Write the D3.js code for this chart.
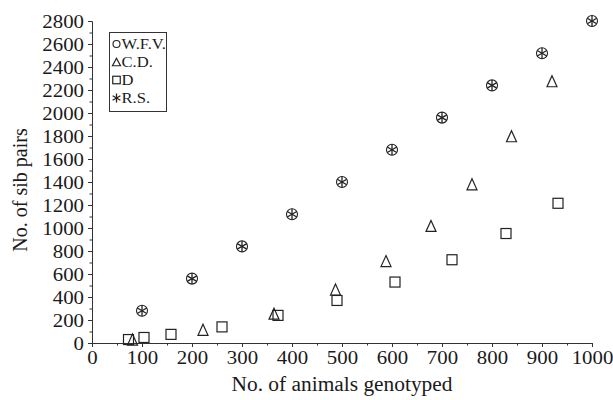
<!DOCTYPE html>
<html><head><meta charset="utf-8">
<script src="https://cdn.jsdelivr.net/npm/d3@7"></script>
<style>body{margin:0;background:#fff}svg{display:block}</style>
</head><body>
<svg id="c" width="613" height="400"></svg>
<script>
const seriesNames = ["W.F.V.", "C.D.", "D", "R.S."];
const wfvX = [100,200,300,400,500,600,700,800,900,1000];
const wfvY = [280,560,840,1120,1400,1680,1960,2240,2520,2800];
const rsX = [100,200,300,400,500,600,700,800,900,1000];
const rsY = [280,560,840,1120,1400,1680,1960,2240,2520,2800];
const cdX = [81,222,364,487,588,678,760,839,920];
const cdY = [30,115,255,465,712,1018,1380,1798,2276];
const dX = [73,104,158,260,372,490,606,720,828,932];
const dY = [30,48,75,140,240,370,530,724,952,1215];
const xTicks = [0,100,200,300,400,500,600,700,800,900,1000];
const yTicks = [0,200,400,600,800,1000,1200,1400,1600,1800,2000,2200,2400,2600,2800];

const FONT = "'Liberation Serif', Tinos, 'Times New Roman', Times, serif";
const SX = 1.07;
const svg = d3.select("#c");
const x = d3.scaleLinear().domain([0,1000]).range([92,592]);
const y = d3.scaleLinear().domain([0,2800]).range([343,21]);

const xAxis = svg.append("g").attr("transform","translate(0,343)");
xAxis.call(d3.axisBottom(x).tickValues(d3.range(0,1001,50)).tickSize(4).tickFormat(d=> xTicks.includes(d)?d:""));
const yAxis = svg.append("g").attr("transform","translate(92,0)");
yAxis.call(d3.axisLeft(y).tickValues(d3.range(0,2801,100)).tickSize(4).tickFormat(d=> yTicks.includes(d)?d:""));
[xAxis,yAxis].forEach(g=>{
  g.attr("font-family",null).attr("font-size",null);
  g.select(".domain").attr("stroke","#333").attr("stroke-width",1);
  g.selectAll(".tick line").attr("stroke","#333").attr("stroke-width",1);
  g.selectAll(".tick text").style("font-family",FONT).style("font-size","19.5px").attr("fill","#1a1a1a").attr("transform",`scale(${SX},1)`);
});
xAxis.selectAll(".tick text").attr("dy","0.9em").attr("y",3);
yAxis.selectAll(".tick text").attr("x",-8/SX).attr("dy","0.34em");
yAxis.selectAll(".tick").filter(d=>!yTicks.includes(d)).select("line").attr("x2",-2.5);
xAxis.selectAll(".tick").filter(d=>!xTicks.includes(d)).select("line").attr("y2",2.5);

svg.append("text").attr("transform",`translate(342,391) scale(${SX},1)`).attr("text-anchor","middle").style("font-family",FONT).style("font-size","20px").attr("fill","#1a1a1a").text("No. of animals genotyped");
svg.append("text").attr("transform","translate(27,190) rotate(-90)").attr("text-anchor","middle").style("font-family",FONT).style("font-size","20px").attr("fill","#1a1a1a").text("No. of sib pairs");

const stroke = "#222";
function circle(g,cx,cy,r){g.append("circle").attr("cx",cx).attr("cy",cy).attr("r",r).attr("fill","none").attr("stroke",stroke).attr("stroke-width",1.1);}
function star(g,cx,cy,r){
  [90,30,150].forEach(a=>{const t=a*Math.PI/180;g.append("line").attr("x1",cx-r*Math.cos(t)).attr("y1",cy-r*Math.sin(t)).attr("x2",cx+r*Math.cos(t)).attr("y2",cy+r*Math.sin(t)).attr("stroke",stroke).attr("stroke-width",1.3);});
}
function square(g,cx,cy,s){g.append("rect").attr("x",cx-s/2).attr("y",cy-s/2).attr("width",s).attr("height",s).attr("fill","none").attr("stroke",stroke).attr("stroke-width",1.2);}
function tri(g,cx,cy,w,h){g.append("path").attr("d",`M${cx},${cy-h/2}L${cx+w/2},${cy+h/2}L${cx-w/2},${cy+h/2}Z`).attr("fill","none").attr("stroke",stroke).attr("stroke-width",1.2);}

const pts = svg.append("g");
dX.forEach((v,i)=>square(pts,x(v),y(dY[i]),10));
cdX.forEach((v,i)=>tri(pts,x(v),y(cdY[i]),10,11));
wfvX.forEach((v,i)=>circle(pts,x(v),y(wfvY[i]),5.5));
rsX.forEach((v,i)=>star(pts,x(v),y(rsY[i]),5.5));

const lg = svg.append("g");
lg.append("rect").attr("x",109.5).attr("y",32.5).attr("width",57).attr("height",79).attr("fill","#fff").attr("stroke","#333").attr("stroke-width",1);
const drawers = [
  (g,cx,cy)=>circle(g,cx,cy,3.5),
  (g,cx,cy)=>tri(g,cx,cy,8,7.5),
  (g,cx,cy)=>square(g,cx,cy,7.5),
  (g,cx,cy)=>star(g,cx,cy,4.5)
];
seriesNames.forEach((n,i)=>{
  const cy = 44 + i*18;
  drawers[i](lg,116.5,cy);
  lg.append("text").attr("transform",`translate(121.5,${cy}) scale(${SX},1)`).attr("dy","0.35em").style("font-family",FONT).style("font-size","15.5px").attr("fill","#1a1a1a").text(n);
});
</script>
</body></html>
